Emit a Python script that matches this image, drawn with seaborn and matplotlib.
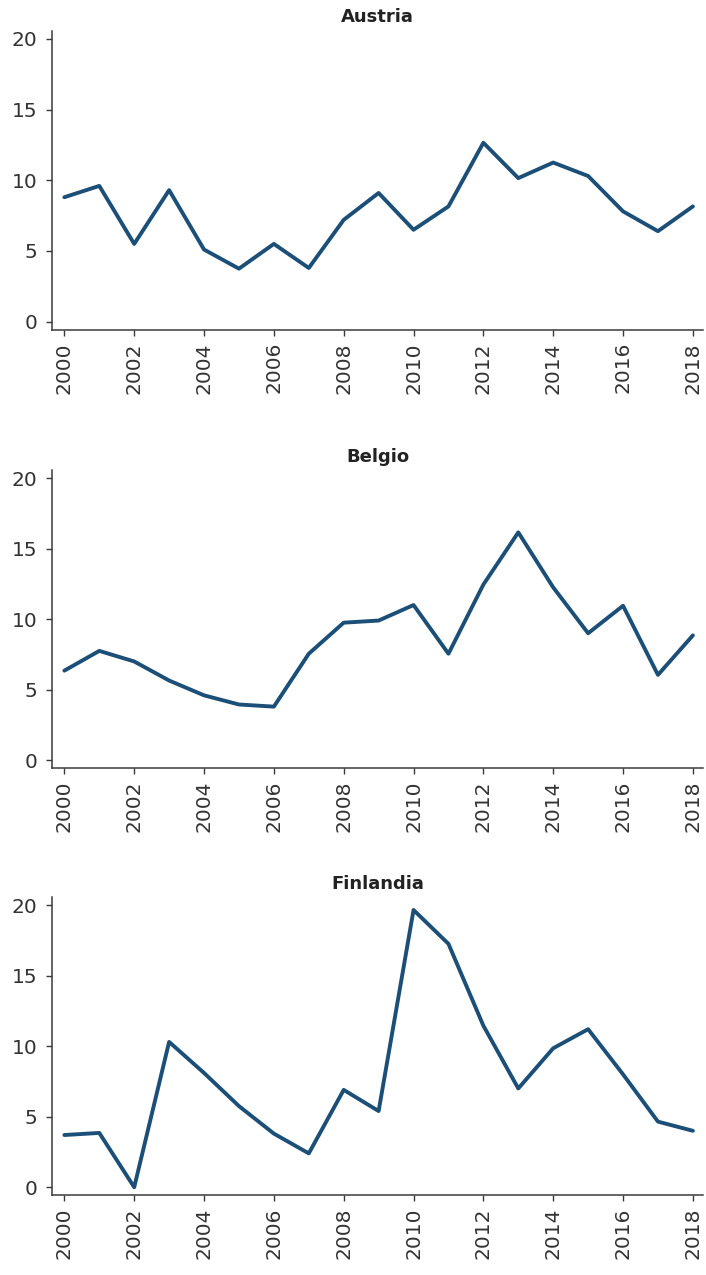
import matplotlib
matplotlib.use("Agg")
import matplotlib.pyplot as plt
import seaborn as sns
import pandas as pd

years = list(range(2000, 2019))
countries = ["Austria", "Belgio", "Finlandia"]
austria = [8.8, 9.6, 5.5, 9.3, 5.1, 3.75, 5.5, 3.8, 7.2, 9.1, 6.5, 8.15, 12.65, 10.15, 11.25, 10.3, 7.8, 6.4, 8.15]
belgio = [6.35, 7.75, 7.0, 5.65, 4.6, 3.95, 3.8, 7.55, 9.75, 9.9, 11.0, 7.55, 12.45, 16.15, 12.25, 9.0, 10.95, 6.05, 8.85]
finlandia = [3.7, 3.85, 0.0, 10.3, 8.1, 5.75, 3.8, 2.4, 6.9, 5.4, 19.65, 17.25, 11.45, 7.0, 9.85, 11.2, 8.0, 4.65, 4.0]
yticks = [0, 5, 10, 15, 20]
xticks = list(range(2000, 2019, 2))

series = {"Austria": austria, "Belgio": belgio, "Finlandia": finlandia}
df = pd.concat(
    [pd.DataFrame({"anno": years, "valore": v, "paese": k}) for k, v in series.items()],
    ignore_index=True,
)

sns.set_theme(style="ticks")
plt.rcParams["font.family"] = ["DejaVu Sans"]

W, H = 706, 1275
fig = plt.figure(figsize=(W / 100, H / 100), dpi=100)

# axes boxes in pixels: (top, bottom)
boxes = [(30.7, 329.5), (470.0, 768.0), (897.0, 1195.0)]
left_px, right_px = 52.5, 703.0
line_color = "#1c4f78"
axis_color = "#3a3a3a"

for name, (top, bottom) in zip(countries, boxes):
    ax = fig.add_axes([left_px / W, 1 - bottom / H, (right_px - left_px) / W, (bottom - top) / H])
    sns.lineplot(data=df[df["paese"] == name], x="anno", y="valore", ax=ax,
                 color=line_color, linewidth=2.8, legend=False)
    ax.set_xlim(1999.66, 2018.29)
    ax.set_ylim(-0.55, 20.57)
    ax.set_xticks(xticks)
    ax.set_xticklabels([str(x) for x in xticks], rotation=90)
    ax.set_yticks(yticks)
    ax.set_xlabel("")
    ax.set_ylabel("")
    ax.set_title(name, fontsize=13, fontweight="bold", color="#222222", pad=6)
    for side in ("top", "right"):
        ax.spines[side].set_visible(False)
    for side in ("left", "bottom"):
        ax.spines[side].set_color(axis_color)
        ax.spines[side].set_linewidth(1.1)
    ax.tick_params(axis="both", colors=axis_color, labelcolor="#333333",
                   labelsize=14.5, length=4.5, width=1.0)
    ax.tick_params(axis="y", pad=6.5)
    ax.tick_params(axis="x", pad=4.5)
    ax.grid(False)

fig.savefig("out.png", dpi=100)
